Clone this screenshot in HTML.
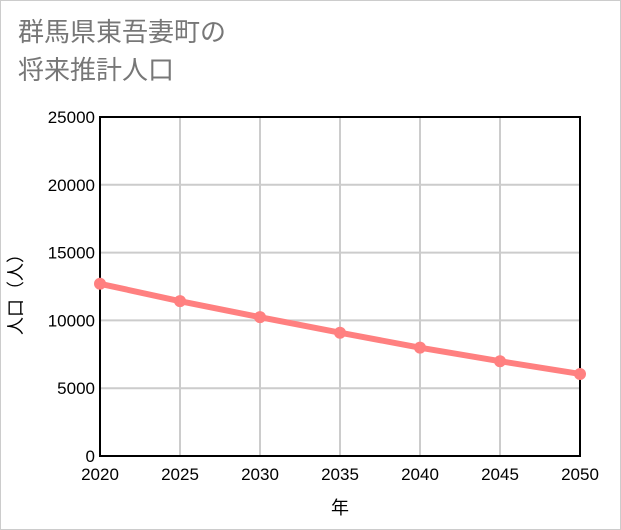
<!DOCTYPE html>
<html><head><meta charset="utf-8">
<style>
html,body{margin:0;padding:0;background:#fff;}
body{width:621px;height:530px;overflow:hidden;font-family:"Liberation Sans","Noto Sans CJK JP",sans-serif;}
#frame{position:absolute;left:0;top:0;width:619px;height:528px;border:1px solid #ccc;background:#fff;}
#title{position:absolute;left:18px;top:13px;font-size:26px;line-height:38px;color:#777;}
</style></head><body>
<div id="frame"></div>
<div id="title">群馬県東吾妻町の<br>将来推計人口</div>
<svg id="chart" width="621" height="530" style="position:absolute;left:0;top:0"></svg>
<script>
const years=[2020,2025,2030,2035,2040,2045,2050];
const population=[12700,11420,10240,9090,7990,6990,6050];
const yTicks=[0,5000,10000,15000,20000,25000];
const X0=100,X1=580,Y0=456,Y1=117;
const xs=y=>X0+(y-2020)/30*(X1-X0);
const ys=v=>Y0-v/25000*(Y0-Y1);
const svg=document.getElementById('chart');
const NS='http://www.w3.org/2000/svg';
function mk(t,a){const e=document.createElementNS(NS,t);for(const k in a)e.setAttribute(k,a[k]);svg.appendChild(e);return e;}
let e;
e=mk('rect',{x:X0,y:Y1,width:X1-X0,height:Y0-Y1,fill:'#fff'});


yTicks.forEach(t=>{
 e=mk('line',{x1:X0,x2:X1,y1:ys(t),y2:ys(t),stroke:'#ccc','stroke-width':2});
 
 
 e=mk('text',{x:X0-5,y:ys(t)+6,'text-anchor':'end','font-size':17,fill:'#000'});
 e.textContent=t;
 
 
});
years.forEach(y=>{
 e=mk('line',{x1:xs(y),x2:xs(y),y1:Y1,y2:Y0,stroke:'#ccc','stroke-width':2});
 
 
 e=mk('text',{x:xs(y),y:Y0+24,'text-anchor':'middle','font-size':17,fill:'#000'});
 e.textContent=y;
 
 
});
e=mk('rect',{x:X0,y:Y1,width:X1-X0,height:Y0-Y1,fill:'none',stroke:'#000','stroke-width':2});


e=mk('polyline',{points:years.map((y,i)=>xs(y)+','+ys(population[i])).join(' '),fill:'none',stroke:'#ff8080','stroke-width':6});


years.forEach((y,i)=>{
 e=mk('circle',{cx:xs(y),cy:ys(population[i]),r:6,fill:'#ff8080'});
 
 
});
e=mk('text',{x:340,y:514,'text-anchor':'middle','font-size':18,fill:'#000'});
e.textContent='年';


e=mk('text',{x:0,y:0,'text-anchor':'middle','font-size':18,fill:'#000',transform:'translate(22,290) rotate(-90)'});
e.textContent='人口（人）';


</script>
</body></html>
